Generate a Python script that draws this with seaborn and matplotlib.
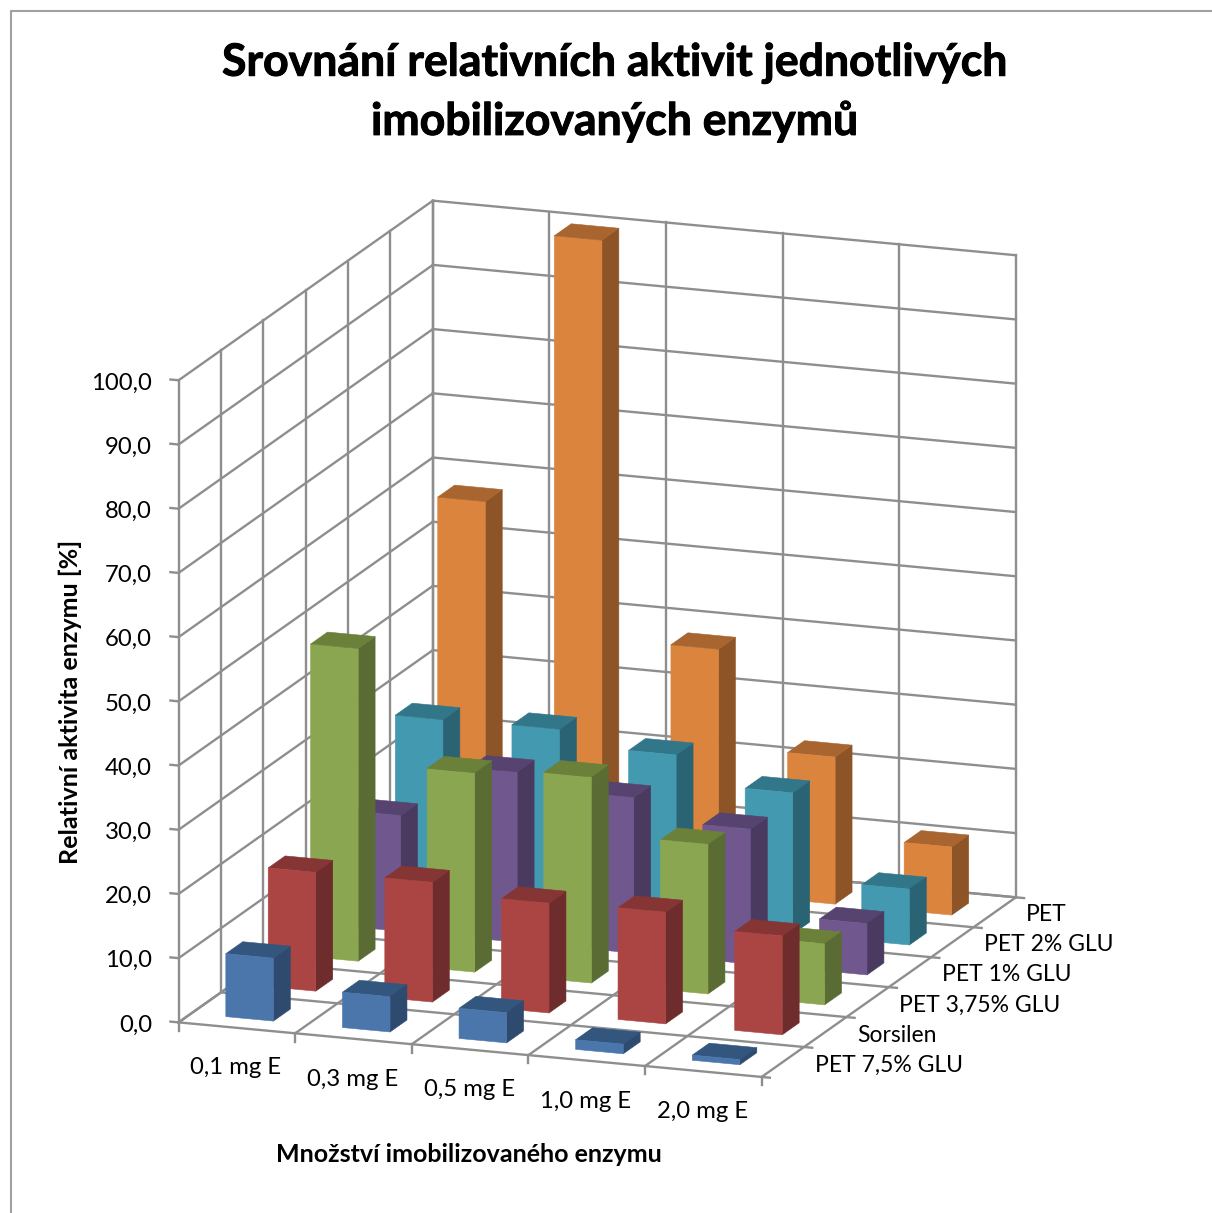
import numpy as np
import pandas as pd
import seaborn as sns
import matplotlib
matplotlib.use("Agg")
import matplotlib.pyplot as plt
import matplotlib.patheffects as pe
from mpl_toolkits.mplot3d import proj3d

W, H = 1212, 1213

categories = ["0,1 mg E", "0,3 mg E", "0,5 mg E", "1,0 mg E", "2,0 mg E"]
series_names = ["PET 7,5% GLU", "Sorsilen", "PET 3,75% GLU", "PET 1% GLU", "PET 2% GLU", "PET"]

pet_75 = [9.8, 5.5, 4.7, 1.5, 0.8]
sorsilen = [18.5, 18.65, 17.1, 17.4, 15.4]
pet_375 = [48.7, 31.05, 32.1, 23.3, 9.5]
pet_1 = [18.0, 26.5, 24.2, 21.0, 8.0]
pet_2 = [28.3, 28.5, 26.2, 22.0, 8.7]
pet_0 = [57.6, 100.0, 38.0, 22.9, 10.6]
value_ticks = [0, 10, 20, 30, 40, 50, 60, 70, 80, 90, 100]

front_colors = ["#4A76AC", "#AB4543", "#8BA650", "#70588F", "#4299B0", "#DB843D"]
top_colors = ["#33567F", "#853534", "#6B8039", "#574370", "#32768A", "#A8652F"]
side_colors = ["#2E4A6F", "#6E2C2C", "#5A6B33", "#4A3A60", "#2A6374", "#8C5427"]
GRID = "#8E8E8E"

sns.set_theme(style="white", rc={"font.family": ["Lato", "DejaVu Sans"]})

activity = pd.DataFrame(
    [pet_75, sorsilen, pet_375, pet_1, pet_2, pet_0],
    index=series_names, columns=categories,
)
n_series, n_cat = activity.shape

fig = plt.figure(figsize=(W / 100, H / 100), dpi=100, facecolor="white")
ax = fig.add_axes([0.1, 0.1, 0.8, 0.8], projection="3d", computed_zorder=False)
ax.set_proj_type("ortho")
ax.view_init(elev=14.9, azim=-70.0)
ax.set_box_aspect((621, 744, 665))
ax.set_xlim(0, n_cat, view_margin=0)
ax.set_ylim(0, n_series, view_margin=0)
ax.set_zlim(0, 100, view_margin=0)
ax.set_axis_off()
ax.patch.set_visible(False)


def to_pixels(x, y, z):
    px, py, _ = proj3d.proj_transform(x, y, z, ax.get_proj())
    return ax.transData.transform((px, py))


# Size and place the square 3D axes so the plot box lands on its pixel anchors.
anchor_a, anchor_b = (0, 0, 0), (n_cat, n_series, 100)
target_a, target_b = np.array([178.6, H - 1023.5]), np.array([1015.9, H - 254.1])
ax.apply_aspect()
span = to_pixels(*anchor_b)[0] - to_pixels(*anchor_a)[0]
side = 0.8 * W * (target_b[0] - target_a[0]) / span
ax.set_position([0, 0, side / W, side / H])
ax.apply_aspect()
mid_now = (to_pixels(*anchor_a) + to_pixels(*anchor_b)) / 2
shift = (target_a + target_b) / 2 - mid_now
ax.set_position([shift[0] / W, shift[1] / H, side / W, side / H])
ax.apply_aspect()


def grid_line(xs, ys, zs):
    ax.plot(xs, ys, zs, color=GRID, lw=1.7, zorder=1, solid_capstyle="projecting")


# Walls and floor
for v in value_ticks:
    grid_line([0, n_cat], [n_series, n_series], [v, v])
    grid_line([0, 0], [0, n_series], [v, v])
    grid_line([-0.07, 0], [0, 0], [v, v])
for c in range(n_cat + 1):
    grid_line([c, c], [n_series, n_series], [0, 100])
    grid_line([c, c], [0, n_series], [0, 0])
    grid_line([c, c], [0, 0], [-1.3, 0])
for s in range(n_series + 1):
    grid_line([0, 0], [s, s], [0, 100])
    grid_line([0, n_cat + 0.07], [s, s], [0, 0])

# Bars are painted back row first and left to right, so nearer ones cover farther ones.
BAR_W, BAR_D = 0.408, 0.40
hidden = (0, 0, 0, 0)
order = 2
for s in range(n_series - 1, -1, -1):
    for c in range(n_cat):
        faces = [hidden, top_colors[s], front_colors[s], hidden, hidden, side_colors[s]]
        bar = ax.bar3d(
            c + 0.5 - BAR_W / 2, s + 0.5 - BAR_D / 2, 0,
            BAR_W, BAR_D, activity.iloc[s, c],
            color=faces, edgecolor=faces, linewidth=0.4, shade=False,
        )
        bar.set_zorder(order)
        order += 1
ax.set_xlim(0, n_cat, view_margin=0)
ax.set_ylim(0, n_series, view_margin=0)
ax.set_zlim(0, 100, view_margin=0)


def label(x, y, text, **kw):
    fig.text(x / W, 1 - y / H, text, color="black", **kw)


heavier = [pe.withStroke(linewidth=0.7, foreground="black")]
label(615, 63, "Srovnání relativních aktivit jednotlivých", fontsize=32.1, fontweight="bold",
      ha="center", va="center", path_effects=heavier)
label(615, 121, "imobilizovaných enzymů", fontsize=32.1, fontweight="bold",
      ha="center", va="center", path_effects=heavier)

for v in value_ticks:
    label(152, 1025 - 6.42 * v, f"{v:.1f}".replace(".", ","), fontsize=17.2, ha="right", va="center")
for c, name in enumerate(categories):
    label(236 + 116.6 * c, 1068 + 11 * c, name, fontsize=17.2, ha="center", va="center")
for s, name in enumerate(series_names):
    label(815 + 42.2 * s, 1065.5 - 30.2 * s, name, fontsize=16.5, ha="left", va="center")

label(70, 702, "Relativní aktivita enzymu [%]", fontsize=18.1, fontweight="bold",
      rotation=90, ha="center", va="center")
label(469, 1155, "Množství imobilizovaného enzymu", fontsize=18.0, fontweight="bold",
      ha="center", va="center")

# Chart frame along the top and left edges
frame = dict(color="#A0A0A0", lw=1.5, transform=fig.transFigure, zorder=0)
fig.add_artist(plt.Line2D([10.5 / W, 10.5 / W], [0, 1 - 10.5 / H], **frame))
fig.add_artist(plt.Line2D([10.5 / W, 1], [1 - 10.5 / H, 1 - 10.5 / H], **frame))

fig.savefig("out.png", dpi=100, facecolor="white")
